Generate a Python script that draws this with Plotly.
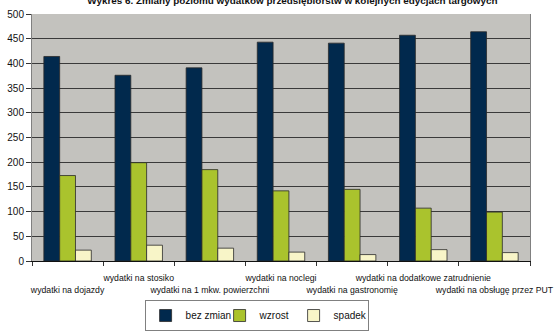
import plotly.graph_objects as go

# Categories of company spending and the share of answers per change type
categories = [
    "wydatki na dojazdy",
    "wydatki na stosiko",
    "wydatki na 1 mkw. powierzchni",
    "wydatki na noclegi",
    "wydatki na gastronomię",
    "wydatki na dodatkowe zatrudnienie",
    "wydatki na obsługę przez PUT",
]
bez_zmian = [414, 376, 391, 443, 441, 457, 464]
wzrost = [173, 199, 185, 142, 145, 107, 99]
spadek = [22, 32, 26, 18, 13, 23, 17]

series = [
    ("bez zmian", bez_zmian, "#01294D"),
    ("wzrost", wzrost, "#AAC32D"),
    ("spadek", spadek, "#F8F5C8"),
]

y_ticks = list(range(0, 501, 50))

# Staggered category labels: every other label drops to a second row
tick_text = [c if i % 2 else "<br>" + c for i, c in enumerate(categories)]

FONT = "Liberation Sans, Arial, sans-serif"

fig = go.Figure()
for name, vals, color in series:
    fig.add_trace(go.Bar(
        x=categories,
        y=vals,
        name=name,
        marker=dict(color=color, line=dict(color="#2a2a2a", width=0.8)),
    ))

fig.update_layout(
    width=557,
    height=331,
    margin=dict(l=32, r=27, t=13.5, b=70, autoexpand=False),
    paper_bgcolor="white",
    plot_bgcolor="#C3C2BE",
    barmode="group",
    bargap=0.333,
    bargroupgap=0,
    font=dict(family=FONT, color="#111"),
    title=dict(
        text="<b>Wykres 6. Zmiany poziomu wydatków przedsiębiorstw w kolejnych edycjach targowych</b>",
        font=dict(size=9.9, family=FONT, color="#111"),
        x=0.525, xanchor="center",
        y=0.997, yanchor="middle",
    ),
    showlegend=True,
    legend=dict(
        orientation="h",
        x=0.451, xanchor="center",
        y=-0.158, yanchor="top",
        bordercolor="#808080",
        borderwidth=1,
        bgcolor="white",
        font=dict(size=10, family=FONT, color="#111"),
        traceorder="normal",
        entrywidth=29,
        entrywidthmode="pixels",
    ),
    xaxis=dict(
        tickmode="array",
        tickvals=categories,
        ticktext=tick_text,
        tickson="boundaries",
        ticks="outside",
        ticklen=4,
        tickcolor="#333",
        tickfont=dict(size=8.7, family=FONT, color="#111"),
        tickangle=0,
        showline=True,
        linecolor="#111",
        linewidth=1,
        showgrid=False,
        ticklabelstandoff=9,
        automargin=False,
    ),
    yaxis=dict(
        range=[0, 500],
        tickvals=y_ticks,
        ticks="outside",
        ticklen=5,
        tickcolor="#333",
        tickfont=dict(size=10, family=FONT, color="#111"),
        showline=True,
        linecolor="#808080",
        linewidth=1,
        mirror=True,
        showgrid=True,
        gridcolor="#3a3a3a",
        gridwidth=1,
        zeroline=False,
        automargin=False,
    ),
)

fig.write_html("out.html")
